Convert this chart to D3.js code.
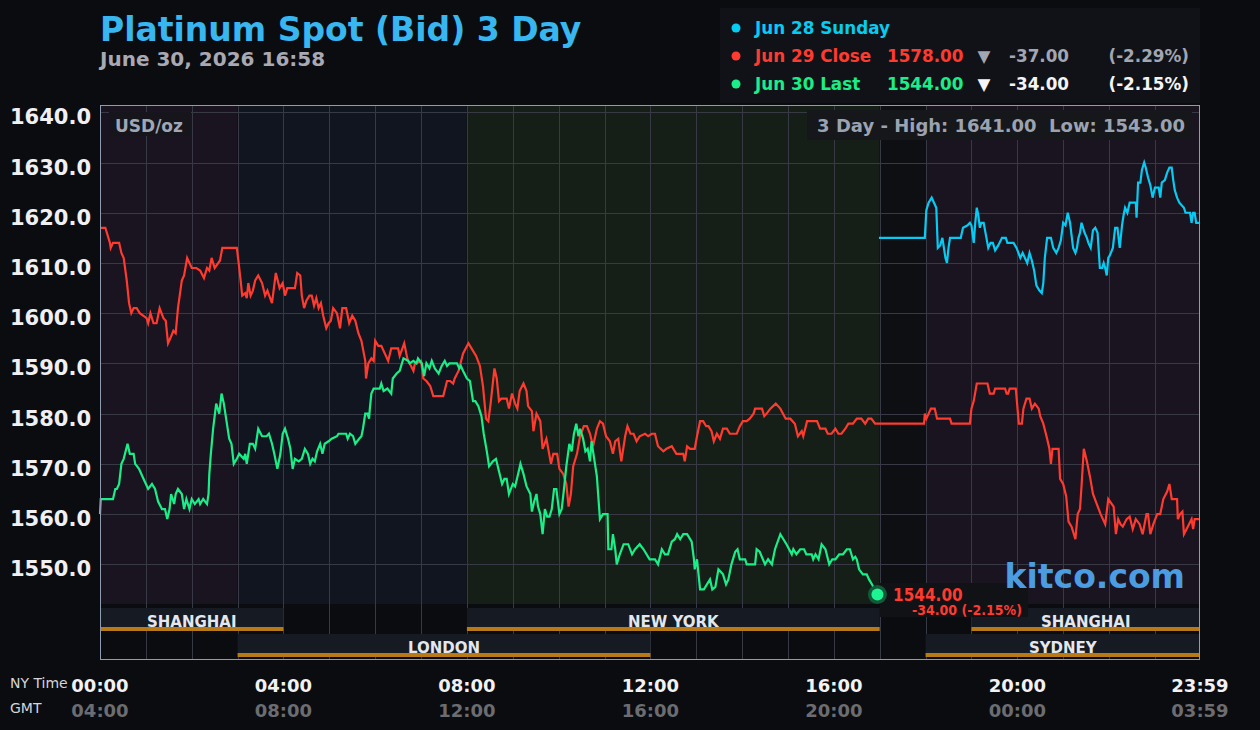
<!DOCTYPE html>
<html>
<head>
<meta charset="utf-8">
<title>Platinum Spot (Bid) 3 Day</title>
<script src="https://cdn.jsdelivr.net/npm/d3@7"></script>
<style>
  body { margin: 0; background: #0b0c10; }
  svg { display: block; font-family: "DejaVu Sans", sans-serif; }
  .cond { font-family: "DejaVu Sans Condensed", "DejaVu Sans", sans-serif; font-stretch: condensed; }
</style>
</head>
<body>
<div id="chart"></div>
<script>
const width = 1260;
const height = 730;

// [minutes after 00:00 NY time, price]
const jun28Sunday = [
  [1019,1615],[1079,1615],[1081,1620.5],[1084,1622],[1088,1623],[1091,1622],[1094,1621],[1096,1613],[1099,1613.5],
  [1102,1615],[1104,1613],[1106,1611],[1108,1610],[1110,1613],[1112,1615],[1126,1615],[1129,1617],[1135,1617.5],
  [1138,1618],[1140,1617.5],[1143,1614],[1145,1618],[1147,1621],[1149,1619.5],[1151,1617],[1153,1618],[1156,1618],
  [1159,1615.5],[1162,1613],[1165,1614],[1168,1614],[1171,1612.5],[1173,1613],[1175,1613.5],[1180,1615],[1185,1615],
  [1187,1614],[1195,1614],[1199,1613],[1204,1611],[1207,1612],[1210,1611],[1213,1610],[1216,1612],[1219,1610.5],
  [1222,1608.5],[1225,1605.5],[1229,1604.5],[1232,1604],[1234,1606],[1236,1611],[1239,1615],[1244,1615],[1247,1613],
  [1251,1612],[1254,1613],[1257,1614.5],[1260,1618],[1263,1617.5],[1266,1620],[1269,1618],[1271,1615.5],[1273,1613],
  [1276,1612],[1278,1613],[1280,1615],[1282,1616],[1284,1618],[1288,1616],[1291,1615],[1293,1614],[1296,1613],
  [1299,1616.5],[1302,1617],[1305,1616],[1308,1609],[1311,1609],[1313,1610],[1315,1609],[1317,1607.5],[1319,1611],
  [1321,1611.5],[1325,1613],[1328,1617],[1331,1617],[1334,1613],[1337,1617.5],[1339,1619.5],[1341,1621],[1344,1620],
  [1347,1622],[1352,1622],[1355,1622],[1356,1619],[1358,1626],[1361,1626],[1363,1628.5],[1366,1630],[1368,1629],
  [1371,1627],[1374,1625.5],[1377,1623],[1380,1625],[1385,1625],[1387,1623],[1389,1626],[1393,1626.5],[1396,1628],
  [1399,1629],[1402,1629],[1404,1626.5],[1406,1624.5],[1409,1623],[1412,1622],[1415,1621.5],[1418,1621],[1420,1620],
  [1426,1620],[1428,1618],[1430,1620],[1432,1620],[1434,1618],[1439,1618]
];

const jun29Close = [
  [0,1617],[7,1617],[13,1614],[14,1613],[17,1614],[25,1614],[28,1612],[31,1611],[35,1606.5],[38,1602],[41,1600],
  [44,1601],[48,1601],[52,1600],[61,1599],[63,1598],[66,1600],[70,1598],[74,1598],[78,1601],[83,1599],[86,1598.5],
  [89,1594],[92,1595],[96,1596.5],[99,1596],[102,1601],[107,1606.5],[110,1607.5],[114,1611],[120,1609],[126,1609],
  [131,1608.5],[136,1607],[140,1609],[143,1608.5],[146,1611],[150,1609],[157,1610.5],[160,1613],[179,1613],
  [181,1610.5],[184,1606.5],[186,1603.5],[190,1604],[192,1603],[194,1606],[197,1603.5],[200,1604.5],[203,1606.5],
  [207,1607.5],[212,1606],[216,1603.5],[219,1604.5],[225,1602],[230,1608],[235,1605],[239,1606],[242,1603.5],
  [245,1605],[255,1605],[258,1608],[262,1607.5],[264,1603.5],[267,1601],[270,1602.5],[274,1603.5],[277,1603.5],
  [280,1601.5],[283,1603],[286,1601],[289,1602],[292,1599.5],[296,1597],[299,1598],[302,1598.5],[305,1601],
  [310,1600],[314,1597],[317,1601],[322,1601],[326,1598],[330,1599.5],[334,1598.5],[338,1596],[342,1594.5],
  [347,1590.5],[348,1587],[351,1590],[355,1591],[358,1590.5],[360,1594.5],[364,1593.5],[368,1593.5],[377,1590.5],
  [381,1593],[390,1593],[392,1591.5],[398,1594],[402,1591],[410,1588.5],[412,1590],[420,1590.5],[423,1587],
  [427,1586.5],[432,1585.5],[436,1583.5],[449,1583.5],[454,1586.5],[458,1586.5],[462,1586],[464,1587],[469,1588.5],
  [475,1592],[482,1594],[486,1593],[492,1591.5],[497,1589.5],[501,1585.5],[505,1579],[508,1578.5],[511,1582],
  [516,1589],[519,1587],[522,1582.5],[525,1583],[532,1583],[535,1581],[539,1584],[543,1582],[546,1581],[549,1584.5],
  [554,1586],[558,1584.5],[560,1581.5],[565,1580.5],[567,1576.5],[571,1580],[576,1578.5],[579,1573],[584,1575],
  [590,1570],[593,1572],[598,1572],[601,1569],[606,1568],[610,1566],[613,1561.5],[616,1564],[619,1569.5],
  [624,1572],[628,1575.5],[633,1577.5],[637,1577.5],[641,1576],[645,1573.5],[650,1577],[654,1578.5],[658,1578],
  [662,1575.5],[667,1574.5],[671,1572],[674,1574.5],[678,1575],[682,1570.5],[687,1575.5],[690,1577.5],[694,1576],
  [698,1576],[702,1574.5],[706,1575.5],[713,1576],[717,1575.5],[722,1576],[726,1576],[730,1573.5],[737,1572.5],
  [741,1573],[748,1573.5],[754,1572],[763,1572],[765,1570.5],[768,1573.5],[772,1573],[778,1573],[781,1575.5],
  [785,1578.5],[789,1578.5],[793,1577.5],[796,1577.5],[800,1576.5],[803,1574.5],[807,1576],[811,1575],[815,1577],
  [820,1577],[824,1576],[829,1576],[833,1576],[837,1577.5],[841,1578.5],[846,1578.5],[850,1579],[855,1580],
  [857,1581],[866,1581],[869,1579.5],[872,1580],[877,1581],[884,1582],[890,1581],[897,1579],[903,1579],[909,1578],
  [913,1575.5],[918,1576.5],[920,1575.5],[925,1578.5],[933,1578.5],[938,1578.5],[942,1577],[949,1577],[952,1576],
  [957,1576],[962,1577],[966,1576],[970,1576],[975,1577],[979,1578],[985,1578],[990,1579],[996,1579],[1001,1578],
  [1005,1579],[1009,1579],[1014,1578],[1019,1578],[1078,1578],[1079,1580],[1081,1579],[1087,1581],[1092,1581],
  [1095,1579],[1112,1579],[1114,1578],[1138,1578],[1140,1581],[1143,1582.5],[1147,1586],[1161,1586],[1164,1584],
  [1169,1584],[1171,1585],[1184,1585],[1186,1584],[1188,1584],[1190,1585],[1198,1585],[1200,1581.5],[1202,1578],
  [1206,1578],[1208,1581],[1212,1583],[1216,1583],[1219,1581],[1223,1582],[1228,1581],[1230,1579.5],[1234,1578],
  [1239,1575],[1242,1573],[1244,1570],[1246,1573],[1254,1573],[1256,1567],[1260,1566],[1264,1563.5],[1267,1558.5],
  [1271,1557.5],[1276,1555],[1279,1560],[1282,1561],[1284,1565.5],[1287,1573],[1291,1570.5],[1295,1567.5],
  [1299,1564],[1304,1562],[1309,1560],[1315,1558],[1319,1563],[1326,1561.5],[1329,1556],[1332,1559],[1335,1558],
  [1338,1557.5],[1343,1559],[1347,1559.5],[1351,1557],[1355,1559],[1360,1558],[1364,1556],[1369,1560],[1371,1560],
  [1374,1556],[1378,1558],[1383,1560],[1387,1560],[1391,1563],[1396,1564.5],[1399,1566],[1402,1563],[1409,1563],
  [1410,1559],[1413,1560],[1416,1560.5],[1418,1556],[1423,1557.5],[1428,1559],[1430,1557],[1432,1559],[1439,1559]
];

const jun30Last = [
  [0,1560],[1,1563],[17,1563],[20,1565],[22,1565],[25,1566],[28,1570],[31,1571],[36,1574],[39,1572],[44,1572],
  [46,1570],[51,1569],[57,1567],[63,1565],[68,1566],[72,1565],[76,1562.5],[81,1561],[85,1561],[88,1559],[91,1561],
  [93,1564],[95,1563],[97,1562],[99,1564],[102,1565],[107,1564],[110,1561],[113,1563],[117,1561],[120,1563],
  [124,1562],[129,1563],[131,1562],[135,1563],[140,1562],[142,1564],[143,1568],[145,1572],[148,1577],[152,1582],
  [154,1581],[156,1580],[159,1584],[162,1582],[166,1578],[169,1575],[172,1574],[175,1570],[179,1571],[182,1572],
  [188,1571],[190,1572],[192,1570],[196,1574],[200,1574],[203,1573],[207,1577],[212,1575.5],[218,1575.5],[221,1576],
  [225,1574],[228,1572],[232,1569],[236,1572],[239,1576],[242,1577],[246,1575],[249,1573],[252,1569],[255,1571],
  [260,1570.5],[264,1571],[268,1573],[272,1572],[275,1570],[278,1571],[281,1570.5],[284,1572.5],[288,1574],
  [291,1572],[294,1574],[299,1574.5],[303,1575],[310,1575.5],[312,1576],[322,1576],[324,1575],[327,1576],
  [331,1575.5],[334,1574],[339,1575],[342,1575.5],[344,1577],[347,1580],[350,1580],[352,1579],[353,1581],[355,1584],
  [358,1585],[366,1585],[368,1586],[371,1584.5],[376,1585],[381,1584],[383,1587],[388,1588],[392,1588.5],
  [394,1589.5],[397,1591],[403,1590.5],[405,1590],[410,1590.5],[414,1590],[416,1591],[421,1590],[424,1587.5],
  [427,1590],[431,1589],[434,1590.5],[438,1589],[443,1588],[447,1589.5],[451,1590.5],[454,1589.5],[457,1590],
  [467,1590],[470,1589],[472,1589.5],[475,1588.5],[480,1587],[484,1586.5],[488,1582.5],[491,1582.5],[495,1581.5],
  [499,1579.5],[502,1576],[506,1572.5],[509,1569.5],[514,1570.5],[518,1571],[522,1568.5],[526,1566],[529,1567],
  [532,1567],[535,1564],[540,1566],[543,1565.5],[547,1568],[550,1570],[554,1568],[558,1565.5],[563,1564],
  [565,1560.5],[568,1562.5],[571,1564],[573,1561.5],[576,1560],[579,1556],[582,1561],[585,1559.5],[588,1559.5],
  [591,1561],[594,1565],[597,1565],[601,1560],[604,1561],[607,1565],[610,1569.5],[614,1574],[617,1572.5],[620,1576],
  [623,1578],[626,1575.5],[628,1577],[632,1575],[635,1572.5],[638,1573],[641,1570.5],[643,1574.5],[645,1572.5],
  [650,1567.5],[654,1559],[658,1560],[664,1560],[665,1553],[669,1553],[671,1556],[674,1553],[676,1550],[680,1552],
  [685,1554],[691,1554],[696,1552],[700,1553],[706,1554],[711,1553],[719,1551],[726,1551],[730,1550],[735,1553],
  [739,1552],[743,1552],[748,1554.5],[752,1555],[755,1556],[759,1555],[763,1556],[768,1556],[774,1554.5],[777,1551],
  [778,1549],[781,1551],[785,1545],[790,1545],[794,1546],[798,1547],[801,1545],[805,1545.5],[809,1549],[812,1548.5],
  [815,1548],[819,1546],[822,1547],[826,1550],[831,1552.5],[834,1553],[837,1551],[844,1551],[846,1550],[857,1550],
  [859,1553],[863,1552.5],[870,1550],[874,1551],[879,1550],[883,1553],[890,1556],[894,1555],[898,1554],[905,1552],
  [907,1553],[911,1552],[916,1553],[921,1553],[924,1552],[931,1552],[933,1551],[936,1552],[940,1551],[944,1554],
  [949,1553],[954,1550],[958,1551],[962,1551],[967,1552],[972,1552],[977,1553],[981,1553],[985,1551],[988,1551.5],
  [990,1551],[993,1549],[998,1548],[1003,1548],[1006,1547],[1010,1546],[1013,1545],[1017,1544]
];

const seriesNames = ["Jun 28 Sunday", "Jun 29 Close", "Jun 30 Last"];
const seriesColors = ["#06cbf2", "#ff3a2f", "#19ee88"];
const closeValues = ["", "1578.00", "1544.00"];
const changeValues = ["", "-37.00", "-34.00"];
const changePercents = ["", "(-2.29%)", "(-2.15%)"];

const yTicks = [1550, 1560, 1570, 1580, 1590, 1600, 1610, 1620, 1630, 1640];
const tickMinutes = [0, 240, 480, 720, 960, 1200, 1439];
const nyTickLabels = ["00:00", "04:00", "08:00", "12:00", "16:00", "20:00", "23:59"];
const gmtTickLabels = ["04:00", "08:00", "12:00", "16:00", "20:00", "00:00", "03:59"];

// shaded trading sessions behind the lines: [start, end, kind]
const sessionShading = [[0, 180, "asia"], [180, 480, "london"], [480, 1020, "ny"], [1020, 1080, "closed"], [1080, 1439, "asia"]];
// market hour bars under the plot: [name, start, end, row]
const marketBars = [
  ["SHANGHAI", 0, 240, 0], ["NEW YORK", 480, 1020, 0], ["SHANGHAI", 1140, 1439, 0],
  ["LONDON", 180, 720, 1], ["SYDNEY", 1080, 1439, 1]
];

const shadeColor = { asia: "#1a1320", london: "#11151f", ny: "#161f17", closed: "#0e0f13" };

const plot = { left: 100, right: 1200, top: 105, bottom: 604, frameBottom: 660 };

const x = d3.scaleLinear().domain([0, 1439]).range([plot.left, plot.right]);
const y = d3.scaleLinear().domain([1542.1, 1641.45]).range([plot.bottom, plot.top]);

const svg = d3.select("#chart").append("svg")
    .attr("width", width)
    .attr("height", height);

svg.append("rect").attr("width", width).attr("height", height).attr("fill", "#0b0c10");

// title
svg.append("text")
    .attr("x", 100).attr("y", 41)
    .attr("fill", "#38b6f0")
    .style("font-size", "33px").style("font-weight", "bold")
    .text("Platinum Spot (Bid) 3 Day");
svg.append("text")
    .attr("x", 100).attr("y", 66)
    .attr("fill", "#a8a9b2")
    .style("font-size", "20px").style("font-weight", "bold")
    .text("June 30, 2026 16:58");

// legend box
const legend = svg.append("g");
legend.append("rect")
    .attr("x", 720).attr("y", 8).attr("width", 480).attr("height", 95)
    .attr("fill", "#111217");
seriesNames.forEach((name, i) => {
    const by = 34 + i * 28;
    const row = legend.append("g").style("font-size", "16.8px").style("font-weight", "bold");
    row.append("circle").attr("cx", 736).attr("cy", by - 6).attr("r", 4.5).attr("fill", seriesColors[i]);
    row.append("text").attr("x", 755).attr("y", by).attr("fill", seriesColors[i]).text(name);
    if (closeValues[i]) {
        const sub = i === 2 ? "#f4f4f6" : "#a2a6b2";
        row.append("text").attr("x", 887).attr("y", by).attr("fill", seriesColors[i]).text(closeValues[i]);
        row.append("text").attr("x", 984).attr("y", by).attr("text-anchor", "middle").attr("fill", sub).text("▼");
        row.append("text").attr("x", 1009).attr("y", by).attr("fill", sub).text(changeValues[i]);
        row.append("text").attr("x", 1189).attr("y", by).attr("text-anchor", "end").attr("fill", sub).text(changePercents[i]);
    }
});

// session shading
svg.append("g").selectAll("rect")
    .data(sessionShading)
    .join("rect")
    .attr("x", d => x(d[0]))
    .attr("y", plot.top)
    .attr("width", d => x(d[1]) - x(d[0]))
    .attr("height", plot.bottom - plot.top)
    .attr("fill", d => shadeColor[d[2]]);

// grid
const grid = svg.append("g").attr("stroke", "#373a45").attr("stroke-width", 1);
grid.selectAll("line.h")
    .data(yTicks)
    .join("line")
    .attr("class", "h")
    .attr("x1", plot.left).attr("x2", plot.right)
    .attr("y1", d => Math.round(y(d)) + 0.5).attr("y2", d => Math.round(y(d)) + 0.5);
grid.selectAll("line.v")
    .data(d3.range(60, 1439, 60))
    .join("line")
    .attr("class", "v")
    .attr("x1", d => Math.round(x(d)) + 0.5).attr("x2", d => Math.round(x(d)) + 0.5)
    .attr("y1", plot.top).attr("y2", plot.frameBottom);

// market hour bars
const bars = svg.append("g").selectAll("g")
    .data(marketBars)
    .join("g")
    .attr("transform", d => `translate(0, ${608 + d[3] * 26})`);
bars.append("rect")
    .attr("x", d => x(d[1])).attr("width", d => x(d[2]) - x(d[1]))
    .attr("y", 0).attr("height", 20)
    .attr("fill", "#151a23");
bars.append("rect")
    .attr("x", d => x(d[1])).attr("width", d => x(d[2]) - x(d[1]))
    .attr("y", 19).attr("height", 4)
    .attr("fill", "#b87a17");
bars.append("text")
    .attr("x", d => (x(d[1]) + x(d[2])) / 2)
    .attr("y", 19)
    .attr("text-anchor", "middle")
    .attr("fill", "#e4e7ee")
    .style("font-size", "15px").style("font-weight", "bold")
    .text(d => d[0]);

// y axis labels
svg.append("g").selectAll("text")
    .data(yTicks)
    .join("text")
    .attr("x", 91)
    .attr("y", d => y(d) + 12)
    .attr("text-anchor", "end")
    .attr("fill", "#f0f0f2")
    .style("font-size", "21px").style("font-weight", "bold")
    .text(d => d3.format(".1f")(d));

// x axis labels
const xl = svg.append("g").style("font-size", "18px").style("font-weight", "bold").attr("text-anchor", "middle");
xl.selectAll("text.ny")
    .data(tickMinutes)
    .join("text")
    .attr("class", "ny")
    .attr("x", d => x(d)).attr("y", 692)
    .attr("fill", "#f2f2f4")
    .text((d, i) => nyTickLabels[i]);
xl.selectAll("text.gmt")
    .data(tickMinutes)
    .join("text")
    .attr("class", "gmt")
    .attr("x", d => x(d)).attr("y", 717)
    .attr("fill", "#6c6d70")
    .text((d, i) => gmtTickLabels[i]);
svg.append("text").attr("x", 10).attr("y", 688).attr("fill", "#d4d5d8").style("font-size", "14px").text("NY Time");
svg.append("text").attr("x", 10).attr("y", 713).attr("fill", "#d4d5d8").style("font-size", "14px").text("GMT");

// info boxes
svg.append("rect").attr("x", 109).attr("y", 112).attr("width", 82).attr("height", 24).attr("fill", "#16151b");
svg.append("text").attr("x", 115).attr("y", 131.5).attr("fill", "#a0a6b4")
    .style("font-size", "17px").style("font-weight", "bold").text("USD/oz");
svg.append("rect").attr("x", 807).attr("y", 110).attr("width", 385).attr("height", 30).attr("fill", "#16171b");
svg.append("text").attr("x", 1185).attr("y", 132).attr("text-anchor", "end").attr("fill", "#9ba3b2")
    .style("font-size", "18px").style("font-weight", "bold").style("white-space", "pre")
    .text("3 Day - High: 1641.00  Low: 1543.00");

// lines
const line = d3.line().x(d => x(d[0])).y(d => y(d[1]));
const allSeries = [jun28Sunday, jun29Close, jun30Last];
svg.append("g").selectAll("path")
    .data(allSeries)
    .join("path")
    .attr("d", line)
    .attr("fill", "none")
    .attr("stroke", (d, i) => seriesColors[i])
    .attr("stroke-width", 2.2)
    .attr("stroke-linejoin", "miter");

// last price marker
const last = jun30Last[jun30Last.length - 1];
svg.append("rect").attr("x", 880).attr("y", 583).attr("width", 148).attr("height", 34).attr("fill", "#111216");
svg.append("circle").attr("cx", x(last[0])).attr("cy", y(last[1])).attr("r", 9.5).attr("fill", "#12593a");
svg.append("circle").attr("cx", x(last[0])).attr("cy", y(last[1])).attr("r", 6).attr("fill", "#1cf591");
svg.append("text").attr("class", "cond").attr("x", 893).attr("y", 600.5).attr("fill", "#ff3a2f")
    .style("font-size", "17px").style("font-weight", "bold").text(d3.format(".2f")(last[1]));
svg.append("text").attr("class", "cond").attr("x", 912).attr("y", 615).attr("fill", "#ff3a2f")
    .style("font-size", "14px").style("font-weight", "bold").text("-34.00 (-2.15%)");

// watermark
svg.append("text").attr("x", 1185).attr("y", 588).attr("text-anchor", "end").attr("fill", "#4b9ce0")
    .style("font-size", "33px").style("font-weight", "bold").text("kitco.com");

// frame
svg.append("rect")
    .attr("x", plot.left + 0.5).attr("y", plot.top + 0.5)
    .attr("width", plot.right - plot.left - 1).attr("height", plot.frameBottom - plot.top - 1)
    .attr("fill", "none").attr("stroke", "#8f9bb0").attr("stroke-width", 1);
</script>
</body>
</html>
